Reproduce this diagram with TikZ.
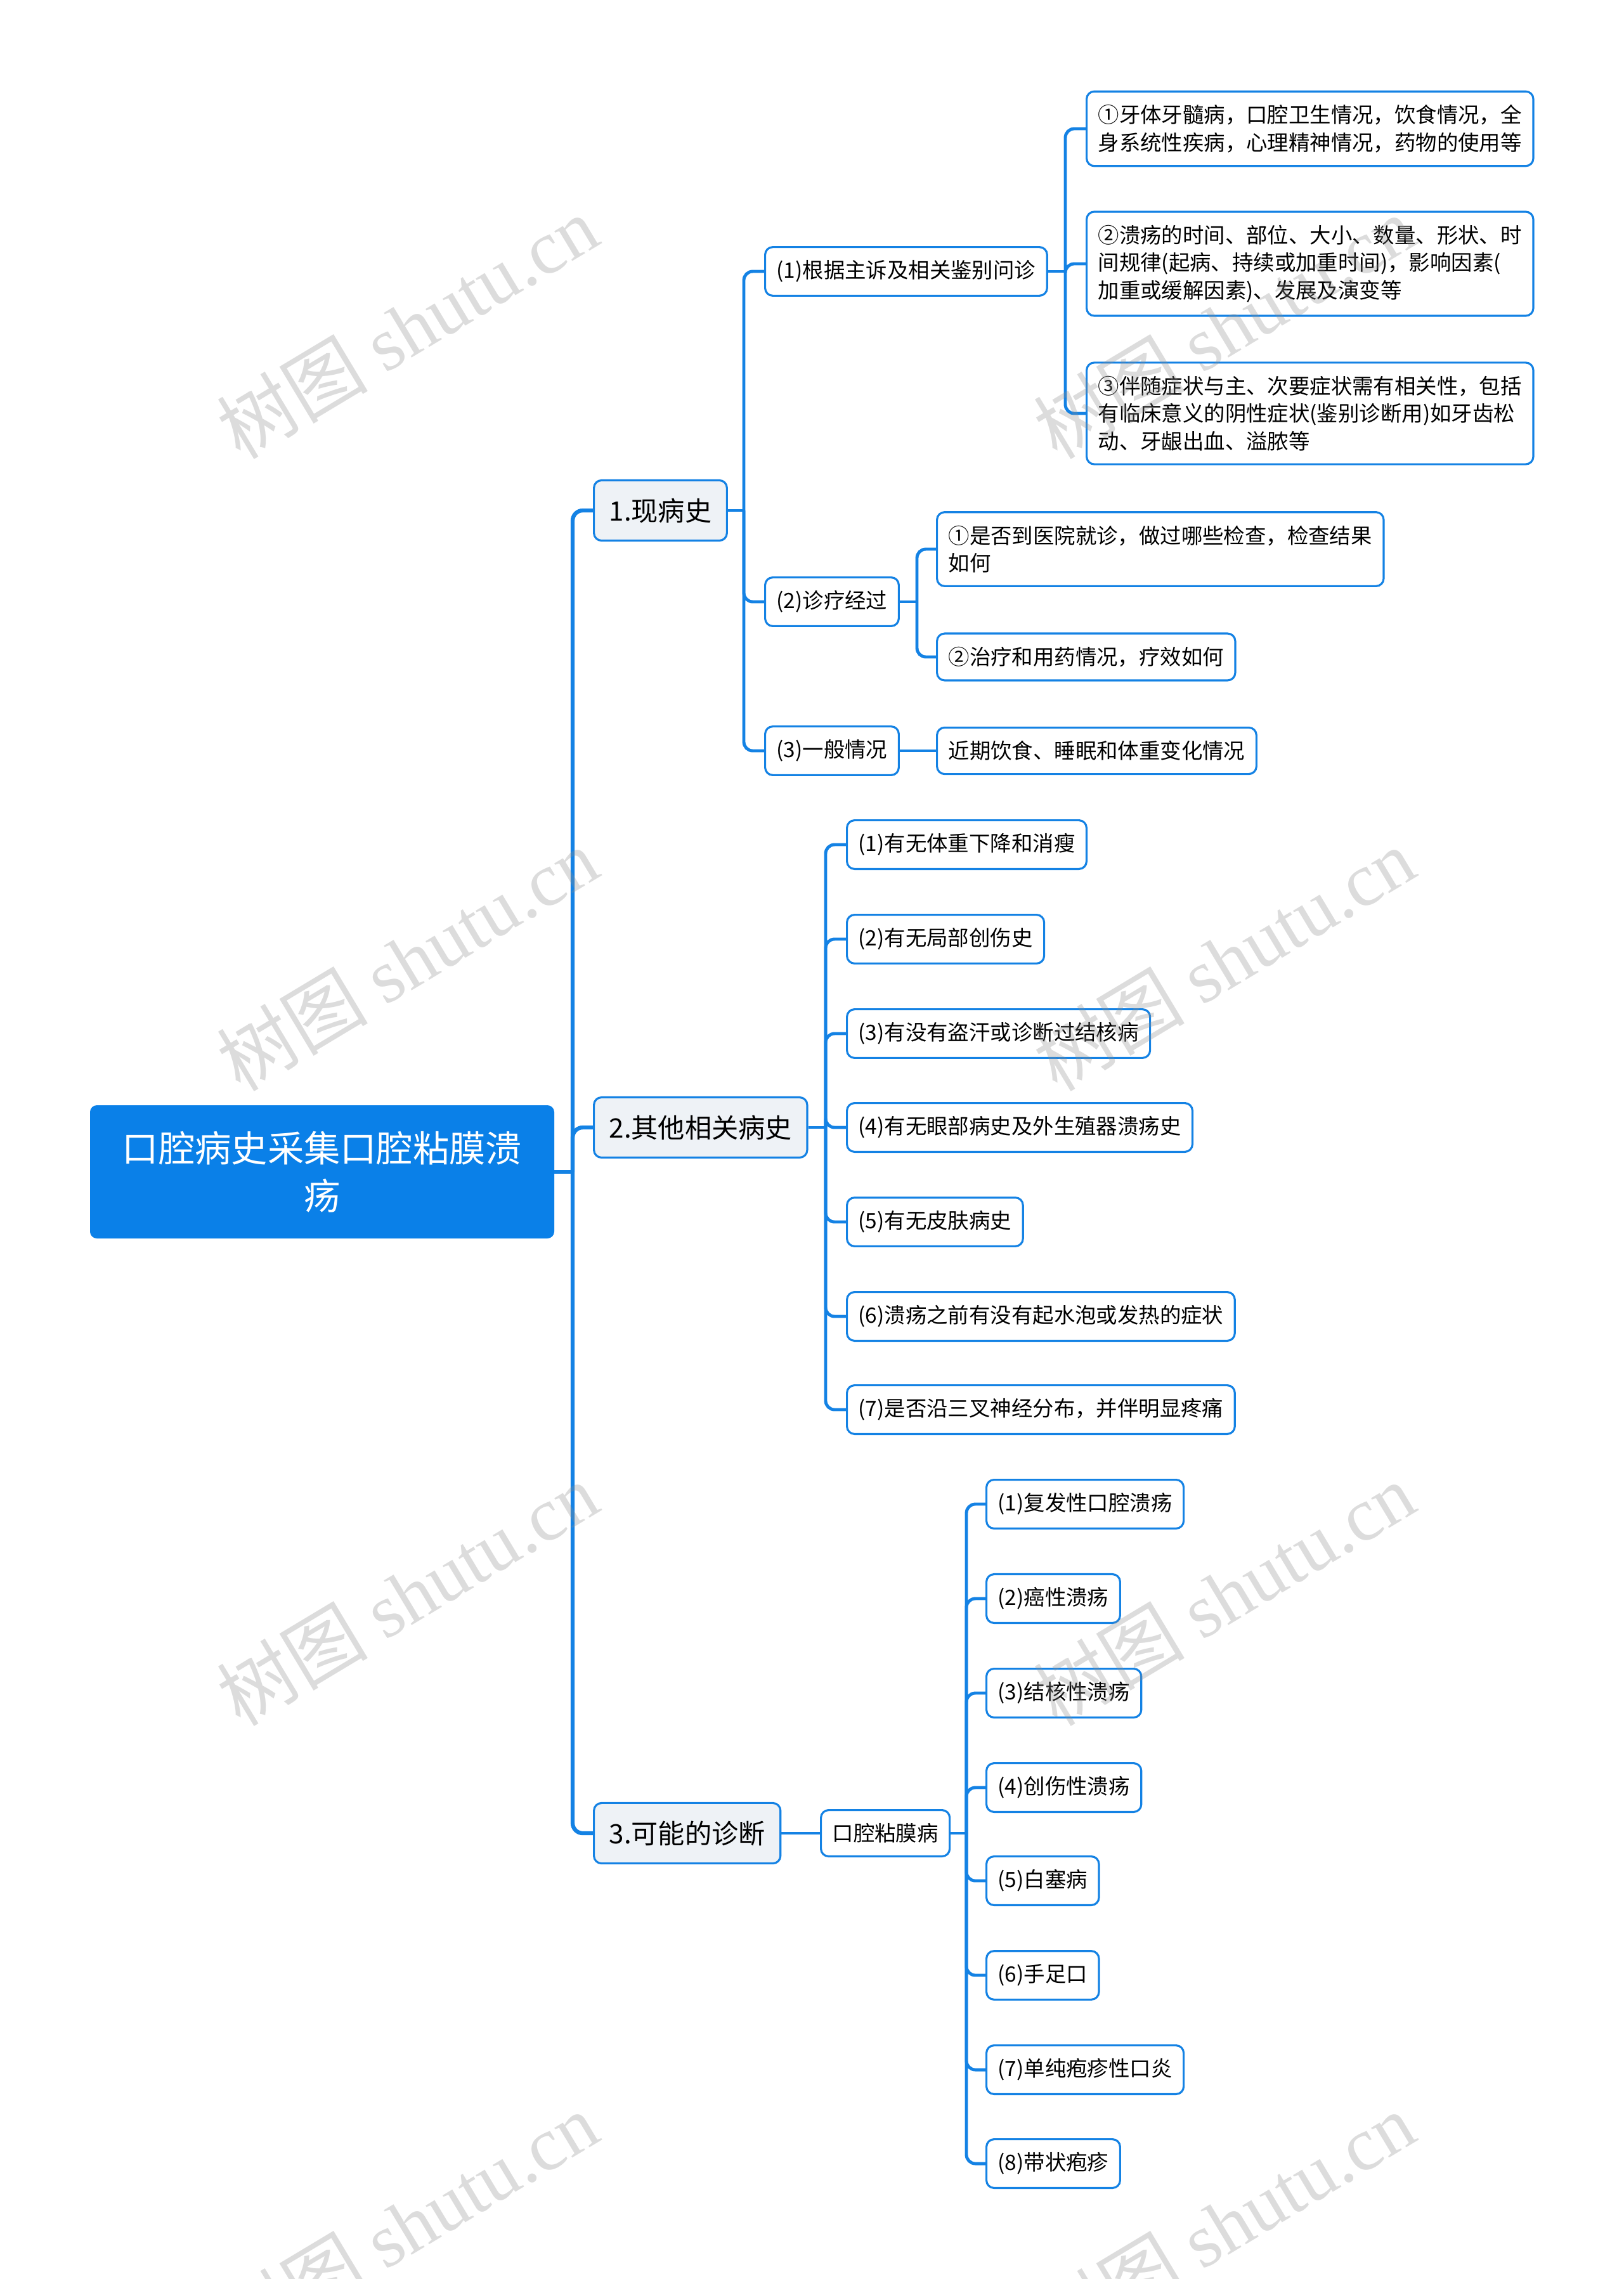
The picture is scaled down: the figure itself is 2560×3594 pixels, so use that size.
\documentclass[tikz,border=0pt]{standalone}
\usepackage{fontspec}
\setmainfont{Noto Sans CJK SC}
\newfontfamily\markfont{Liberation Serif}
\usetikzlibrary{calc}
\definecolor{mapblue}{HTML}{0A80E8}
\definecolor{lineblue}{HTML}{1482E4}
\definecolor{topicgrey}{HTML}{EEF2F6}
\tikzset{
    rootbox/.style={rectangle, rounded corners=0.1cm, fill=mapblue, draw=mapblue, text=white,
        align=center, inner xsep=0.5cm, inner ysep=0.4cm, anchor=west,
        font=\fontsize{16.3pt}{21.5pt}\selectfont},
    topicbox/.style={rectangle, rounded corners=0.12cm, fill=topicgrey, draw=lineblue, line width=0.9pt,
        inner xsep=0.24cm, inner ysep=0.28cm, anchor=west, font=\fontsize{12pt}{15pt}\selectfont},
    itembox/.style={rectangle, rounded corners=0.12cm, fill=white, draw=lineblue, line width=0.9pt,
        align=left, inner xsep=0.18cm, inner ysep=0.21cm, anchor=west, font=\fontsize{9.5pt}{12.4pt}\selectfont},
    widebox/.style={itembox, text width=6.68cm},
    trunkline/.style={draw=lineblue, line width=1.8pt, rounded corners=0.16cm},
    twigline/.style={draw=lineblue, line width=1.4pt, rounded corners=0.14cm},
    markstyle/.style={text=black!45, opacity=0.3, rotate=31, font=\fontsize{34pt}{34pt}\selectfont}
}

\begin{document}
\begin{tikzpicture}[x=0.01cm, y=-0.01cm]
    \useasboundingbox (0,0) rectangle (2560,3594);

    % root and the three topics
    \node[rootbox] (root) at (142,1848) {口腔病史采集口腔粘膜溃\\疡};
    \node[topicbox] (t1) at (935,805) {1.现病史};
    \node[topicbox] (t2) at (935,1778) {2.其他相关病史};
    \node[topicbox] (t3) at (935,2891) {3.可能的诊断};

    % 1.现病史
    \node[itembox] (a1) at (1205,428) {(1)根据主诉及相关鉴别问诊};
    \node[itembox] (a2) at (1205,949) {(2)诊疗经过};
    \node[itembox] (a3) at (1205,1184) {(3)一般情况};
    \node[widebox] (a11) at (1712,203) {①牙体牙髓病，口腔卫生情况，饮食情况，全\\身系统性疾病，心理精神情况，药物的使用等};
    \node[widebox] (a12) at (1712,416) {②溃疡的时间、部位、大小、数量、形状、时\\间规律(起病、持续或加重时间)，影响因素(\\加重或缓解因素)、发展及演变等};
    \node[widebox] (a13) at (1712,652) {③伴随症状与主、次要症状需有相关性，包括\\有临床意义的阴性症状(鉴别诊断用)如牙齿松\\动、牙龈出血、溢脓等};
    \node[widebox] (a21) at (1476,866) {①是否到医院就诊，做过哪些检查，检查结果\\如何};
    \node[itembox] (a22) at (1476,1036) {②治疗和用药情况，疗效如何};
    \node[itembox] (a31) at (1476,1184) {近期饮食、睡眠和体重变化情况};

    % 2.其他相关病史
    \node[itembox] (b1) at (1334,1332) {(1)有无体重下降和消瘦};
    \node[itembox] (b2) at (1334,1481) {(2)有无局部创伤史};
    \node[itembox] (b3) at (1334,1630) {(3)有没有盗汗或诊断过结核病};
    \node[itembox] (b4) at (1334,1778) {(4)有无眼部病史及外生殖器溃疡史};
    \node[itembox] (b5) at (1334,1927) {(5)有无皮肤病史};
    \node[itembox] (b6) at (1334,2076) {(6)溃疡之前有没有起水泡或发热的症状};
    \node[itembox] (b7) at (1334,2223) {(7)是否沿三叉神经分布，并伴明显疼痛};

    % 3.可能的诊断
    \node[itembox] (c0) at (1293,2891) {口腔粘膜病};
    \node[itembox] (c1) at (1554,2372) {(1)复发性口腔溃疡};
    \node[itembox] (c2) at (1554,2521) {(2)癌性溃疡};
    \node[itembox] (c3) at (1554,2670) {(3)结核性溃疡};
    \node[itembox] (c4) at (1554,2819) {(4)创伤性溃疡};
    \node[itembox] (c5) at (1554,2966) {(5)白塞病};
    \node[itembox] (c6) at (1554,3115) {(6)手足口};
    \node[itembox] (c7) at (1554,3264) {(7)单纯疱疹性口炎};
    \node[itembox] (c8) at (1554,3412) {(8)带状疱疹};

    % x of the vertical buses
    \coordinate (bus0) at (903,0);
    \coordinate (busa) at (1173,0);
    \coordinate (busa1) at (1680,0);
    \coordinate (busa2) at (1446,0);
    \coordinate (busb) at (1302,0);
    \coordinate (busc) at (1524,0);

    \draw[trunkline] (root.east) -- (root.east -| bus0);
    \foreach \n in {t1,t2,t3}
        \draw[trunkline] (root.east -| bus0) |- (\n.west);

    \draw[twigline] (t1.east) -- (t1.east -| busa);
    \foreach \n in {a1,a2,a3}
        \draw[twigline] (t1.east -| busa) |- (\n.west);
    \draw[twigline] (a1.east) -- (a1.east -| busa1);
    \foreach \n in {a11,a12,a13}
        \draw[twigline] (a1.east -| busa1) |- (\n.west);
    \draw[twigline] (a2.east) -- (a2.east -| busa2);
    \foreach \n in {a21,a22}
        \draw[twigline] (a2.east -| busa2) |- (\n.west);
    \draw[twigline] (a3.east) -- (a31.west);

    \draw[twigline] (t2.east) -- (t2.east -| busb);
    \foreach \n in {b1,b2,b3,b4,b5,b6,b7}
        \draw[twigline] (t2.east -| busb) |- (\n.west);

    \draw[twigline] (t3.east) -- (c0.west);
    \draw[twigline] (c0.east) -- (c0.east -| busc);
    \foreach \n in {c1,c2,c3,c4,c5,c6,c7,c8}
        \draw[twigline] (c0.east -| busc) |- (\n.west);

    % watermark
    \foreach \mx in {642,1930}
        \foreach \my in {516,1513,2514,3507}
            \node[markstyle] (mark-\mx-\my) at (\mx,\my) {树图 {\markfont shutu.cn}};
\end{tikzpicture}
\end{document}
